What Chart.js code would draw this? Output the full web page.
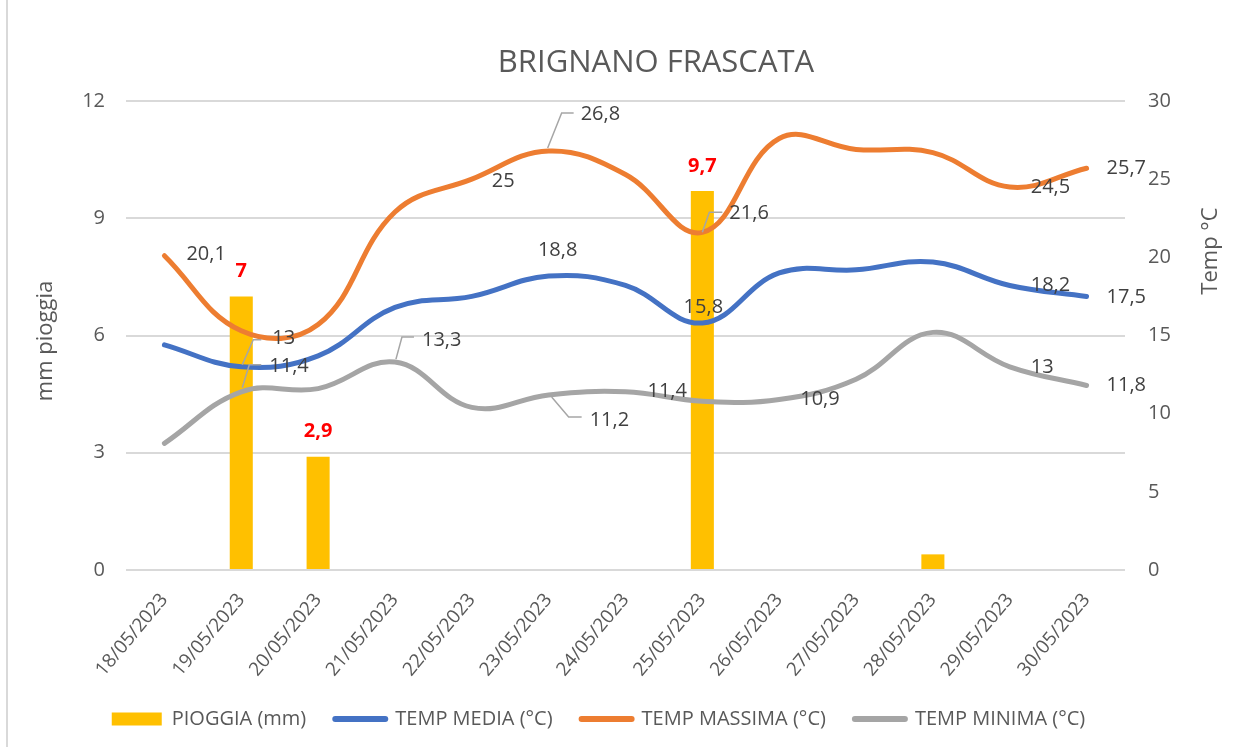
<!DOCTYPE html>
<html>
<head>
<meta charset="utf-8">
<script src="https://cdn.jsdelivr.net/npm/chart.js@4"></script>
<style>
  html, body { margin: 0; padding: 0; background: #fff; }
  #wrap { width: 1252px; height: 747px; }
</style>
</head>
<body>
<div id="wrap"><canvas id="meteoChart" width="1252" height="747"></canvas></div>
<script>
const giorni = ['18/05/2023', '19/05/2023', '20/05/2023', '21/05/2023', '22/05/2023', '23/05/2023',
    '24/05/2023', '25/05/2023', '26/05/2023', '27/05/2023', '28/05/2023', '29/05/2023', '30/05/2023'];
const pioggia = [null, 7, 2.9, null, null, null, null, 9.7, null, null, 0.4, null, null];
const tempMedia = [14.4, 13, 13.7, 16.8, 17.5, 18.8, 18.2, 15.8, 19.0, 19.2, 19.7, 18.2, 17.5];
const tempMassima = [20.1, 15.3, 15.7, 22.9, 25, 26.8, 25.3, 21.6, 27.6, 26.9, 26.7, 24.5, 25.7];
const tempMinima = [8.1, 11.4, 11.6, 13.3, 10.4, 11.2, 11.4, 10.8, 10.9, 12.2, 15.2, 13, 11.8];
const pioggiaTicks = [0, 3, 6, 9, 12];
const tempTicks = [0, 5, 10, 15, 20, 25, 30];

const titolo = 'BRIGNANO FRASCATA';
const grigio = '#595959';

// which points carry a value label, and where it sits relative to the point
// ds: 1 media, 2 massima, 3 minima
const etichette = [
    { ds: 2, i: 0, dx: 22, dy: -1 },
    { ds: 2, i: 4, dx: 20, dy: 2 },
    { ds: 2, i: 5, dx: 32, dy: -37, leader: [[25, -38], [13, -38], [-1, -3]] },
    { ds: 2, i: 7, dx: 27, dy: -19, leader: [[20, -20], [7, -20], [0, 0]] },
    { ds: 2, i: 11, dx: 21, dy: 0 },
    { ds: 2, i: 12, dx: 20, dy: 0 },
    { ds: 1, i: 1, dx: 31, dy: -28, leader: [[20, -27], [12, -27], [1, -2]] },
    { ds: 1, i: 5, dx: 9, dy: -26, center: true },
    { ds: 1, i: 7, dx: 1, dy: -16, center: true },
    { ds: 1, i: 11, dx: 21, dy: 0 },
    { ds: 1, i: 12, dx: 20, dy: 1 },
    { ds: 3, i: 1, dx: 28, dy: -25, leader: [[20, -27], [8, -27], [1, -4]] },
    { ds: 3, i: 3, dx: 27, dy: -22, leader: [[19, -25], [7, -25], [1, -3]] },
    { ds: 3, i: 5, dx: 41, dy: 25, leader: [[3, 2], [20, 22], [33, 22]] },
    { ds: 3, i: 6, dx: 22, dy: 0 },
    { ds: 3, i: 8, dx: 21, dy: 0 },
    { ds: 3, i: 11, dx: 21, dy: 1 },
    { ds: 3, i: 12, dx: 20, dy: 0 },
];
const etichetteBarre = [1, 2, 7];

const fmt = v => String(v).replace('.', ',');

const etichettePlugin = {
    id: 'etichette',
    beforeDraw(chart) {
        const c = chart.ctx;
        c.save();
        c.fillStyle = '#fff';
        c.fillRect(0, 0, chart.width, chart.height);
        c.strokeStyle = '#d9d9d9';
        c.lineWidth = 2;
        c.beginPath();
        c.moveTo(7, 0);
        c.lineTo(7, chart.height);
        c.stroke();

        // chart title (sits right of centre in the original)
        c.font = '31px "Open Sans"';
        c.fillStyle = grigio;
        c.textAlign = 'center';
        c.textBaseline = 'middle';
        c.fillText(titolo, 656, 63);
        c.restore();
    },
    afterDatasetsDraw(chart) {
        const c = chart.ctx;
        c.save();
        c.textBaseline = 'middle';

        etichette.forEach(e => {
            const el = chart.getDatasetMeta(e.ds).data[e.i];
            const v = chart.data.datasets[e.ds].data[e.i];
            if (e.leader) {
                c.strokeStyle = '#a6a6a6';
                c.lineWidth = 1.5;
                c.beginPath();
                e.leader.forEach(([lx, ly], k) => {
                    if (k === 0) c.moveTo(el.x + lx, el.y + ly);
                    else c.lineTo(el.x + lx, el.y + ly);
                });
                c.stroke();
            }
            c.font = '20px "Open Sans"';
            c.fillStyle = '#404040';
            c.textAlign = e.center ? 'center' : 'left';
            c.fillText(fmt(v), el.x + e.dx, el.y + e.dy);
        });

        c.font = 'bold 20px "Open Sans"';
        c.fillStyle = '#ff0000';
        c.textAlign = 'center';
        etichetteBarre.forEach(i => {
            const el = chart.getDatasetMeta(0).data[i];
            c.fillText(fmt(pioggia[i]), el.x, el.y - 25);
        });

        // axis titles
        c.font = '22px "Open Sans"';
        c.fillStyle = grigio;
        c.translate(46, 341);
        c.rotate(-Math.PI / 2);
        c.fillText('mm pioggia', 0, 0);
        c.restore();

        c.save();
        c.font = '22px "Open Sans"';
        c.fillStyle = grigio;
        c.textAlign = 'center';
        c.textBaseline = 'middle';
        c.translate(1211, 251);
        c.rotate(-Math.PI / 2);
        c.fillText('Temp °C', 0, 0);
        c.restore();
    }
};

Chart.defaults.font.family = '"Open Sans", sans-serif';
Chart.defaults.color = grigio;

const ctx = document.getElementById('meteoChart').getContext('2d');

const meteoChart = new Chart(ctx, {
    type: 'bar',
    data: {
        labels: giorni,
        datasets: [{
            label: 'PIOGGIA (mm)',
            data: pioggia,
            backgroundColor: '#FFC000',
            borderColor: '#FFC000',
            barPercentage: 0.3,
            categoryPercentage: 1,
            yAxisID: 'y',
            order: 1,
        }, {
            type: 'line',
            label: 'TEMP MEDIA (°C)',
            data: tempMedia,
            borderColor: '#4472C4',
            backgroundColor: '#4472C4',
            borderWidth: 5,
            tension: 0.4,
            pointRadius: 0,
            borderCapStyle: 'round',
            yAxisID: 'y1',
            order: 0,
        }, {
            type: 'line',
            label: 'TEMP MASSIMA (°C)',
            data: tempMassima,
            borderColor: '#ED7D31',
            backgroundColor: '#ED7D31',
            borderWidth: 5,
            tension: 0.4,
            pointRadius: 0,
            borderCapStyle: 'round',
            yAxisID: 'y1',
            order: 0,
        }, {
            type: 'line',
            label: 'TEMP MINIMA (°C)',
            data: tempMinima,
            borderColor: '#A5A5A5',
            backgroundColor: '#A5A5A5',
            borderWidth: 5,
            tension: 0.4,
            pointRadius: 0,
            borderCapStyle: 'round',
            yAxisID: 'y1',
            order: 0,
        }],
    },
    options: {
        responsive: false,
        animation: false,
        layout: {
            padding: { left: 0, right: 55, top: 101, bottom: 8 },
        },
        plugins: {
            title: { display: false },
            legend: {
                position: 'bottom',
                labels: {
                    usePointStyle: true,
                    pointStyleWidth: 50,
                    boxHeight: 13,
                    padding: 29,
                    font: { size: 20 },
                    color: grigio,
                    generateLabels: (chart) => chart.data.datasets.map((ds, i) => ({
                        text: ds.label,
                        datasetIndex: i,
                        fillStyle: ds.backgroundColor,
                        strokeStyle: ds.borderColor,
                        lineWidth: i === 0 ? 0 : 6,
                        lineCap: 'round',
                        pointStyle: i === 0 ? 'rect' : 'line',
                        hidden: false,
                        fontColor: grigio,
                    })),
                },
            },
            tooltip: { enabled: false },
        },
        scales: {
            x: {
                offset: true,
                grid: { display: false },
                border: { display: false },
                ticks: {
                    minRotation: 50,
                    maxRotation: 50,
                    padding: 11,
                    font: { size: 19 },
                    color: grigio,
                },
                afterFit: (scale) => { scale.height = 110; },
            },
            y: {
                position: 'left',
                min: 0,
                max: 12,
                afterBuildTicks: (scale) => { scale.ticks = pioggiaTicks.map(v => ({ value: v })); },
                grid: { color: '#d9d9d9', lineWidth: 2, drawTicks: false },
                border: { display: false },
                ticks: { padding: 21, font: { size: 20 }, color: grigio },
                afterFit: (scale) => { scale.width = 126; },
            },
            y1: {
                position: 'right',
                min: 0,
                max: 30,
                afterBuildTicks: (scale) => { scale.ticks = tempTicks.map(v => ({ value: v })); },
                grid: { display: false, drawTicks: false },
                border: { display: false },
                ticks: { padding: 23, font: { size: 20 }, color: grigio },
                afterFit: (scale) => { scale.width = 72; },
            },
        },
    },
    plugins: [etichettePlugin],
});
</script>
</body>
</html>
